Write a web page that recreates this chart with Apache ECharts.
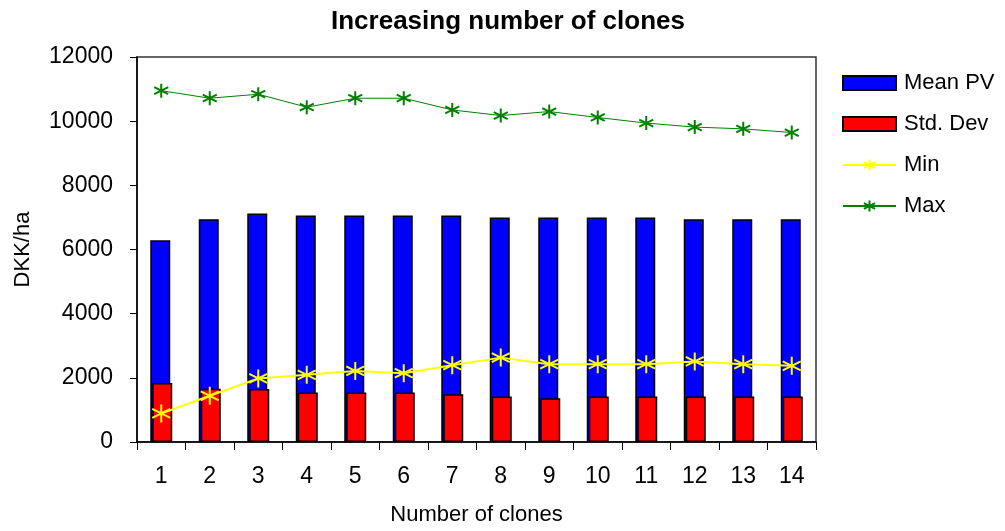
<!DOCTYPE html>
<html>
<head>
<meta charset="utf-8">
<script src="https://cdn.jsdelivr.net/npm/echarts@6/dist/echarts.min.js"></script>
<style>
  html, body { margin: 0; padding: 0; background: #fff; }
  #chart { width: 1005px; height: 531px; }
</style>
</head>
<body>
<div id="chart"></div>
<script>
const clones = ["1", "2", "3", "4", "5", "6", "7", "8", "9", "10", "11", "12", "13", "14"];
const meanPV = [6290, 6940, 7120, 7060, 7060, 7060, 7060, 7000, 7000, 7000, 7000, 6940, 6940, 6940];
const stdDev = [1840, 1660, 1650, 1545, 1545, 1545, 1490, 1420, 1360, 1420, 1420, 1420, 1420, 1420];
const minPV = [890, 1440, 1980, 2095, 2215, 2145, 2395, 2630, 2425, 2425, 2425, 2510, 2425, 2375];
const maxPV = [10950, 10715, 10840, 10435, 10715, 10715, 10350, 10175, 10300, 10115, 9940, 9815, 9760, 9645];

// asterisk marker: vertical stroke plus an X
const asterisk = "path://M5,0 L5,10 M0.7,2.5 L9.3,7.5 M0.7,7.5 L9.3,2.5";
const font = "Liberation Sans, Arial, sans-serif";

window.addEventListener("DOMContentLoaded", function () {
  const chart = echarts.init(document.getElementById("chart"));

  const options = {
    animation: false,
    textStyle: { fontFamily: font, color: "#000" },
    title: {
      text: "Increasing number of clones",
      left: 503,
      textAlign: "center",
      top: 4,
      textStyle: { fontSize: 26, fontWeight: "bold", fontFamily: font, color: "#000" },
    },
    grid: {
      left: 137,
      right: 189,
      top: 57,
      bottom: 88,
      show: true,
      borderColor: "#333",
      borderWidth: 1.5,
      containLabel: false,
    },
    legend: {
      orient: "vertical",
      left: 837,
      top: 67,
      itemWidth: 53,
      itemHeight: 14,
      itemGap: 19,
      textStyle: { fontSize: 22, fontFamily: font, color: "#000", padding: [0, 0, 0, 3] },
      data: [
        { name: "Mean PV", icon: "rect" },
        { name: "Std. Dev", icon: "rect" },
        "Min",
        "Max",
      ],
    },
    xAxis: {
      type: "category",
      data: clones,
      name: "Number of clones",
      nameLocation: "middle",
      nameGap: 62,
      nameTextStyle: { fontSize: 22, fontFamily: font, color: "#000" },
      axisLine: { lineStyle: { color: "#000", width: 1.5 } },
      axisTick: { show: true, length: 8, lineStyle: { color: "#000" } },
      axisLabel: { fontSize: 23, color: "#000", margin: 23, fontFamily: font },
    },
    yAxis: {
      type: "value",
      min: 0,
      max: 12000,
      interval: 2000,
      name: "DKK/ha",
      nameLocation: "middle",
      nameGap: 103,
      nameTextStyle: { fontSize: 22, fontFamily: font, color: "#000" },
      axisLine: { show: true, lineStyle: { color: "#000", width: 1.5 } },
      axisTick: { show: true, length: 7, lineStyle: { color: "#000" } },
      axisLabel: {
        fontSize: 23,
        color: "#000",
        margin: 24,
        fontFamily: font,
        formatter: (v) => String(v),
      },
      splitLine: { show: false },
    },
    series: [
      {
        name: "Mean PV",
        type: "bar",
        data: meanPV,
        barWidth: 20,
        barGap: "-90%",
        itemStyle: { color: "#0000ff", borderColor: "#000", borderWidth: 1.5 },
      },
      {
        name: "Std. Dev",
        type: "bar",
        data: stdDev,
        barWidth: 20,
        itemStyle: { color: "#ff0000", borderColor: "#000", borderWidth: 1.5 },
      },
      {
        name: "Min",
        type: "line",
        data: minPV,
        symbol: asterisk,
        symbolSize: 18,
        lineStyle: { color: "#ffff00", width: 2 },
        itemStyle: { color: "#ffff00", borderColor: "#ffff00", borderWidth: 2 },
        z: 5,
      },
      {
        name: "Max",
        type: "line",
        data: maxPV,
        symbol: asterisk,
        symbolSize: 14,
        lineStyle: { color: "#008000", width: 1 },
        itemStyle: { color: "#008000", borderColor: "#008000", borderWidth: 2 },
        z: 5,
      },
    ],
  };

  chart.setOption(options);
});
</script>
</body>
</html>
